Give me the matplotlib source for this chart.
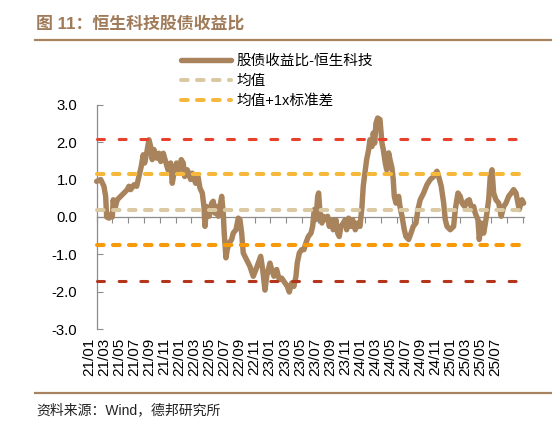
import numpy as np
import matplotlib
matplotlib.use("Agg")
import matplotlib.pyplot as plt
from matplotlib.lines import Line2D

# months elapsed since 2021-01
months = [
    0.00, 0.51, 0.92, 1.14, 1.27, 1.56, 1.77, 1.98, 2.10, 2.28,
    2.61, 3.04, 3.46, 3.88, 4.09, 4.31, 4.73, 5.07, 5.36, 5.65,
    5.90, 6.08, 6.33, 6.63, 6.84, 7.04, 7.26, 7.60, 7.89, 8.11,
    8.44, 8.74, 9.03, 9.37, 9.58, 9.79, 10.13, 10.43, 10.72, 10.97,
    11.15, 11.48, 11.91, 12.11, 12.54, 12.83, 13.09, 13.38, 13.59, 13.72,
    13.93, 14.26, 14.57, 14.77, 14.99, 15.20, 15.40, 15.62, 15.84, 16.04,
    16.16, 16.38, 16.54, 16.80, 17.10, 17.30, 17.65, 17.94, 18.15, 18.37,
    18.57, 19.00, 19.42, 19.84, 20.18, 20.47, 20.78, 21.03, 21.32, 21.54,
    21.95, 22.17, 22.46, 22.80, 23.13, 23.44, 23.85, 24.15, 24.40, 24.70,
    24.99, 25.25, 25.41, 25.67, 25.97, 26.26, 26.51, 26.81,
    27.15, 27.36, 27.57, 27.78, 28.00, 28.12, 28.29, 28.54, 28.71, 28.96,
    29.26, 29.47, 29.68, 29.97, 30.31, 30.53, 30.73, 30.95, 31.24, 31.49,
    31.67, 31.92, 32.22, 32.43, 32.76, 33.06, 33.36, 33.61, 33.77, 34.03,
    34.20, 34.46, 34.62, 34.88, 35.04, 35.22, 35.38, 35.60, 35.89, 36.14,
    36.31, 36.56, 36.74, 36.99, 37.16, 37.41, 37.57, 37.70, 37.92, 38.26,
    38.42, 38.68, 38.97, 39.18, 39.52, 39.82, 40.11, 40.45,
    40.70, 40.99, 41.42, 41.84, 42.26, 42.69, 43.11, 43.32, 43.65, 43.96,
    44.16, 44.38, 44.79, 45.22, 45.43, 45.77, 46.06, 46.28, 46.62, 46.91,
    47.20, 47.54, 47.76, 47.96, 48.30, 48.47, 48.72, 49.03, 49.32, 49.66,
    49.86, 50.08, 50.29, 50.58, 50.93, 51.25, 51.56, 51.85, 52.19, 52.52,
    52.82, 53.12, 53.37, 53.53, 53.88, 54.09,
]

# 股债收益比-恒生科技
ratio = [
    0.95, 1.00, 0.82, 0.55, 0.00, -0.03, 0.06, 0.00, 0.46, 0.20,
    0.46, 0.55, 0.64, 0.73, 0.82, 0.73, 0.86, 0.82, 1.08, 1.35,
    1.66, 1.44, 1.70, 2.06, 1.88, 1.53, 1.80, 1.57, 1.70, 1.48,
    1.70, 1.48, 1.26, 1.44, 0.90, 1.17, 1.44, 1.26, 1.53, 1.44,
    1.08, 1.26, 1.00, 1.17, 0.90, 1.08, 0.77, 0.64, 0.28, -0.25,
    0.28, 0.02, 0.37, 0.42, 0.10, 0.28, 0.02, 0.28, 0.55, 0.10,
    -0.43, -1.09, -0.87, -0.69, -0.60, -0.43, -0.34, -0.03, -0.07, -0.43,
    -0.96, -1.14, -1.32, -1.58, -1.40, -1.23, -1.05, -1.40, -1.95, -1.58,
    -1.23, -1.40, -1.58, -1.40, -1.67, -1.63, -1.76, -1.85, -2.00, -1.76,
    -1.85, -1.58, -1.23, -0.96, -0.87, -0.87, -0.69, -0.52,
    -0.43, -0.25, 0.20, -0.07, 0.55, 0.64, 0.11, -0.16, 0.02, -0.07,
    0.02, -0.25, -0.07, -0.34, -0.07, -0.43, -0.52, -0.25, -0.16, -0.07,
    -0.34, -0.03, -0.25, -0.07, -0.34, -0.16, -0.25, 0.28, 0.82, 1.26,
    1.53, 1.80, 2.06, 1.88, 2.24, 1.97, 2.50, 2.64, 2.60, 1.97,
    1.80, 1.44, 1.26, 1.71, 1.53, 1.31, 1.00, 0.55, 0.37, 0.55,
    0.28, 0.02, -0.34, -0.52, -0.60, -0.43, -0.25, -0.16,
    0.20, 0.46, 0.64, 0.86, 1.00, 1.08, 1.22, 1.08, 0.82, 0.37,
    -0.07, -0.25, -0.34, -0.25, 0.20, 0.64, 0.55, 0.37, 0.28, 0.42,
    0.46, 0.20, 0.28, 0.10, -0.07, -0.60, -0.16, -0.43, -0.07, 0.46,
    1.08, 1.26, 0.64, 0.46, 0.37, 0.02, 0.28, 0.37, 0.55, 0.64,
    0.73, 0.64, 0.37, 0.20, 0.46, 0.37,
]

MEAN_VAL = 0.19
STD_VAL = 0.95

x_labels = [
    "21/01", "21/03", "21/05", "21/07", "21/09", "21/11",
    "22/01", "22/03", "22/05", "22/07", "22/09", "22/11",
    "23/01", "23/03", "23/05", "23/07", "23/09", "23/11",
    "24/01", "24/03", "24/05", "24/07", "24/09", "24/11",
    "25/01", "25/03", "25/05", "25/07",
]
y_ticks = [-3, -2, -1, 0, 1, 2, 3]

SERIES_COLOR = "#a8835c"
TITLE_COLOR = "#a07b59"
RULE_COLOR = "#a8835f"
AXIS_COLOR = "#8c8c8c"

plt.rcParams["font.family"] = ["Liberation Sans", "Noto Sans CJK SC"]
plt.rcParams["lines.scale_dashes"] = False

fig = plt.figure(figsize=(5.52, 4.34), dpi=100)
ax = fig.add_axes([0.1565, 0.2408, 0.798, 0.5184])

x_start, x_end = months[0], months[-1]

# zero line with small tick marks
ax.plot([x_start, x_end], [0, 0], color=AXIS_COLOR, lw=0.9, zorder=1)
sec = ax.secondary_xaxis(0.5)
sec.set_xticks(np.arange(0, 55, 2))
sec.tick_params(direction="in", length=4, width=0.8, color=AXIS_COLOR,
                labeltop=False, labelbottom=False)
for s in sec.spines.values():
    s.set_visible(False)

line_series, = ax.plot(months, ratio, color=SERIES_COLOR, lw=3.9,
                       solid_joinstyle="round", solid_capstyle="round",
                       zorder=2, label="股债收益比-恒生科技")

wide_dash = (0, (4.8, 6.7))
long_gap = (0, (5.0, 10.6))
levels = [
    (MEAN_VAL + 2 * STD_VAL, "#e8402b", 2.2, long_gap, "_nolegend_"),
    (MEAN_VAL + STD_VAL, "#f6b83b", 2.9, wide_dash, "均值+1x标准差"),
    (MEAN_VAL, "#dac9a2", 2.9, wide_dash, "均值"),
    (MEAN_VAL - STD_VAL, "#f79a06", 2.9, wide_dash, "_nolegend_"),
    (MEAN_VAL - 2 * STD_VAL, "#b5341c", 2.2, long_gap, "_nolegend_"),
]
handles = {}
for val, col, lw, ls, lab in levels:
    h, = ax.plot([x_start, x_end], [val, val], color=col, lw=lw, linestyle=ls,
                 dash_capstyle="round", zorder=3, label=lab)
    handles[lab] = h

ax.set_xlim(-1.3, 54.5)
ax.set_ylim(-3, 3)

for side in ["top", "right", "bottom"]:
    ax.spines[side].set_visible(False)
ax.spines["left"].set_position(("data", 0))
ax.spines["left"].set_color(AXIS_COLOR)
ax.spines["left"].set_linewidth(0.9)

ax.set_yticks(y_ticks)
ax.set_yticklabels([f"{v:.1f}" for v in y_ticks])
ax.tick_params(axis="y", direction="in", length=4, width=0.8, color=AXIS_COLOR,
               pad=14, labelsize=10.7, labelcolor="black")

label_pos = np.linspace(-0.98, 50.55, len(x_labels))
ax.set_xticks(label_pos)
ax.set_xticklabels(x_labels, rotation=90)
ax.tick_params(axis="x", length=0, pad=6, labelsize=11, labelcolor="black")

ax.legend([line_series, handles["均值"], handles["均值+1x标准差"]],
          ["股债收益比-恒生科技", "均值", "均值+1x标准差"],
          loc="upper left", bbox_to_anchor=(181 / 552, 1 - 54 / 434),
          bbox_transform=fig.transFigure, frameon=False, fontsize=10.5,
          handlelength=3.4, handletextpad=0.4, labelspacing=0.42,
          borderpad=0, borderaxespad=0)

# title, rules and source
fig.text(36 / 552, 1 - 24 / 434, "图 11：恒生科技股债收益比", fontsize=12.2,
         fontweight="bold", color=TITLE_COLOR, va="center", ha="left")
fig.add_artist(Line2D([35 / 552, 1], [1 - 40 / 434] * 2, transform=fig.transFigure,
                      color=RULE_COLOR, lw=1.6))
fig.add_artist(Line2D([35 / 552, 1], [1 - 392.5 / 434] * 2, transform=fig.transFigure,
                      color=RULE_COLOR, lw=1.6))
fig.text(36 / 552, 1 - 410 / 434, "资料来源：Wind，德邦研究所", fontsize=10,
         color="#222222", va="center", ha="left")

fig.savefig("out.png", dpi=100)
